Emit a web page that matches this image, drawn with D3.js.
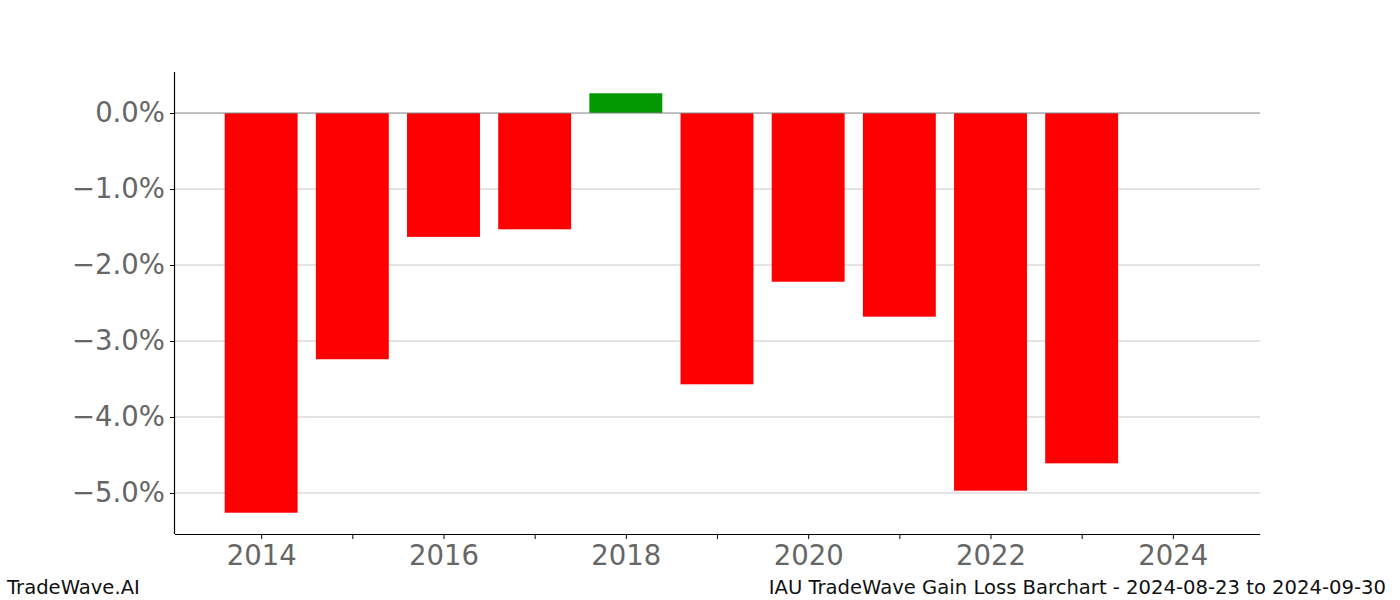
<!DOCTYPE html>
<html><head><meta charset="utf-8">
<script src="https://cdn.jsdelivr.net/npm/d3@7"></script>
<style>body{margin:0;background:#fff}svg{display:block}text{font-family:"DejaVu Sans",sans-serif}</style>
</head><body><svg id="c" width="1400" height="600"></svg>
<script>
const years = [2014, 2015, 2016, 2017, 2018, 2019, 2020, 2021, 2022, 2023];
const values = [-5.26, -3.24, -1.63, -1.53, 0.26, -3.57, -2.22, -2.68, -4.97, -4.61];
const yTicks = [0, -1, -2, -3, -4, -5];
const xTicks = [2014, 2015, 2016, 2017, 2018, 2019, 2020, 2021, 2022, 2023, 2024];
const xLabels = [2014, 2016, 2018, 2020, 2022, 2024];
const footerLeft = "TradeWave.AI";
const footerRight = "IAU TradeWave Gain Loss Barchart - 2024-08-23 to 2024-09-30";

const svg = d3.select("#c");
const L = 175, R = 1260, T = 72, B = 534;
const x = d3.scaleLinear().domain([2013.055, 2024.956]).range([L, R]);
const y = d3.scaleLinear().domain([0.54, -5.54]).range([T, B]);
const bw = x(2014.4) - x(2013.6);

// gridlines
svg.append("g").selectAll("line").data(yTicks.filter(d => d !== 0)).join("line")
  .attr("x1", L).attr("x2", R).attr("y1", d => y(d)).attr("y2", d => y(d))
  .attr("stroke", "#c8c8c8").attr("stroke-width", 1);

// bars
svg.append("g").selectAll("rect").data(years).join("rect")
  .attr("x", (d) => x(d) - bw / 2)
  .attr("width", bw)
  .attr("y", (d, i) => y(Math.max(0, values[i])))
  .attr("height", (d, i) => Math.abs(y(values[i]) - y(0)))
  .attr("fill", (d, i) => values[i] >= 0 ? "#009900" : "#ff0000");

// zero line
svg.append("line").attr("x1", L).attr("x2", R).attr("y1", y(0)).attr("y2", y(0))
  .attr("stroke", "#808080").attr("stroke-width", 1);

// y axis
const yAxis = d3.axisLeft(y).tickValues(yTicks).tickSize(5).tickPadding(5)
  .tickFormat(d => (d < 0 ? "\u2212" : "") + Math.abs(d).toFixed(1) + "%");
const gy = svg.append("g").attr("transform", `translate(${L},0)`).call(yAxis);
gy.select(".domain").attr("d", `M-0.5,${T}V${B}`).attr("stroke", "#000").attr("stroke-width", 1.2);
gy.selectAll(".tick line").attr("stroke", "#000");
gy.selectAll("text").attr("font-size", "27.5px").attr("fill", "#666").attr("font-family", "DejaVu Sans");

// x axis
const xAxis = d3.axisBottom(x).tickValues(xTicks).tickSize(5).tickPadding(6)
  .tickFormat(d => xLabels.includes(d) ? String(d) : "");
const gx = svg.append("g").attr("transform", `translate(0,${B})`).call(xAxis);
gx.select(".domain").attr("d", `M${L},0.5H${R}`).attr("stroke", "#000").attr("stroke-width", 1.2);
gx.selectAll(".tick line").attr("stroke", "#000");
gx.selectAll("text").attr("font-size", "27.5px").attr("fill", "#666").attr("font-family", "DejaVu Sans");

// footer
svg.append("text").attr("x", 7).attr("y", 594).attr("font-size", "19.6px").attr("fill", "#111").text(footerLeft);
svg.append("text").attr("x", 1386).attr("y", 594).attr("text-anchor", "end").attr("font-size", "19.6px").attr("fill", "#111").text(footerRight);
</script></body></html>
